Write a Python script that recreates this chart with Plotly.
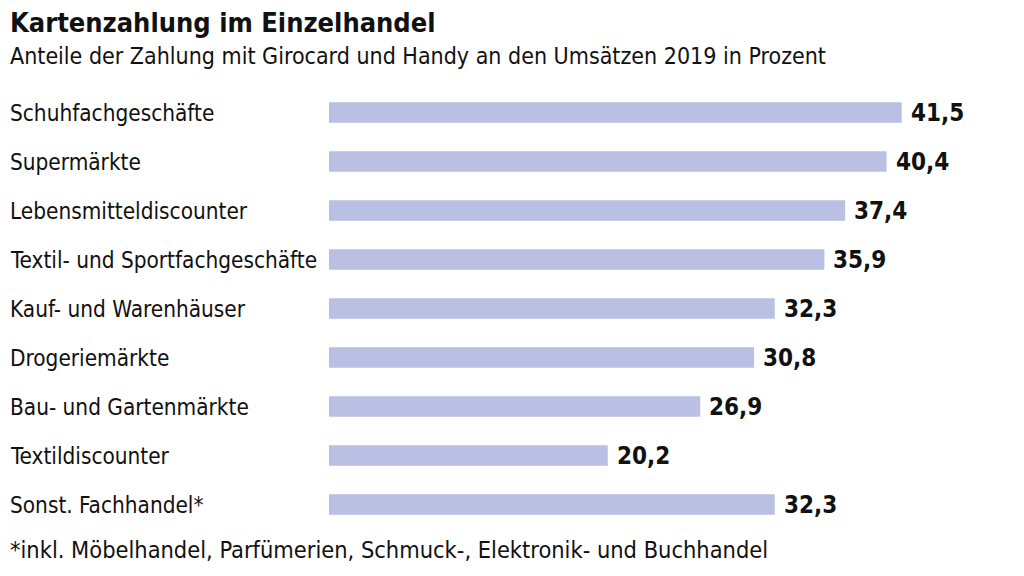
import plotly.graph_objects as go

# data (share of card payments in retail turnover 2019, percent)
branchen = [
    "Schuhfachgeschäfte",
    "Supermärkte",
    "Lebensmitteldiscounter",
    "Textil- und Sportfachgeschäfte",
    "Kauf- und Warenhäuser",
    "Drogeriemärkte",
    "Bau- und Gartenmärkte",
    "Textildiscounter",
    "Sonst. Fachhandel*",
]
anteile = [41.5, 40.4, 37.4, 35.9, 32.3, 30.8, 26.9, 20.2, 32.3]

titel = "Kartenzahlung im Einzelhandel"
untertitel = "Anteile der Zahlung mit Girocard und Handy an den Umsätzen 2019 in Prozent"
fussnote = "*inkl. Möbelhandel, Parfümerien, Schmuck-, Elektronik- und Buchhandel"

FONT = "DejaVu Sans Condensed, Liberation Sans, sans-serif"
TXT = "#111111"
BAR = "#b9c0e4"

# the page puts the figure 8px in from the top left corner
OFF = 8
W, H = 1016, 568
ML, MR, MT, MB = 329 - OFF, 30, 88 - OFF, 47
plot_w = W - ML - MR
plot_h = H - MT - MB
LX = (0 - ML) / plot_w


def py(ypix):
    # window pixel row -> paper y
    return (H - MB - (ypix - OFF)) / plot_h


fig = go.Figure()
fig.add_trace(go.Bar(
    x=anteile,
    y=branchen,
    orientation="h",
    marker=dict(color=BAR, line=dict(width=0)),
    width=0.42,
    hoverinfo="skip",
))

annots = []
for name, val in zip(branchen, anteile):
    annots.append(dict(
        x=LX, xref="paper", y=name, yref="y",
        text=name, showarrow=False, xanchor="left", yanchor="middle",
        font=dict(family=FONT, size=22.4, color=TXT),
    ))
    annots.append(dict(
        x=val, xref="x", y=name, yref="y",
        text="<b>" + f"{val:.1f}".replace(".", ",") + "</b>",
        showarrow=False, xanchor="left", yanchor="middle", xshift=7,
        font=dict(family=FONT, size=24, color=TXT),
    ))

annots.append(dict(
    x=LX, xref="paper", y=py(22), yref="paper",
    text="<b>" + titel + "</b>", showarrow=False, xanchor="left", yanchor="middle",
    font=dict(family=FONT, size=27, color=TXT),
))
annots.append(dict(
    x=LX, xref="paper", y=py(56), yref="paper",
    text=untertitel, showarrow=False, xanchor="left", yanchor="middle",
    font=dict(family=FONT, size=23, color=TXT),
))
annots.append(dict(
    x=LX, xref="paper", y=py(550), yref="paper",
    text=fussnote, showarrow=False, xanchor="left", yanchor="middle",
    font=dict(family=FONT, size=23.4, color=TXT),
))

fig.update_layout(
    width=W, height=H,
    margin=dict(l=ML, r=MR, t=MT, b=MB),
    paper_bgcolor="white", plot_bgcolor="white",
    showlegend=False,
    annotations=annots,
    xaxis=dict(range=[0, plot_w / 13.8], visible=False, fixedrange=True),
    yaxis=dict(autorange="reversed", visible=False, fixedrange=True),
)

fig.write_html("out.html")
